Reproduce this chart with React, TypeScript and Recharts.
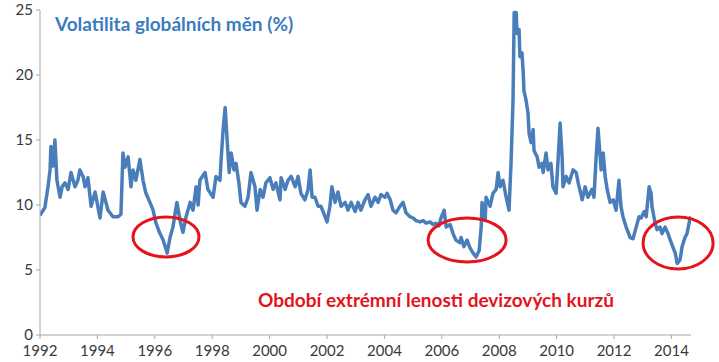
import { LineChart, Line, XAxis, YAxis, ReferenceDot } from 'recharts';

// decimal years of each observation
const years = [
  1992.0, 1992.17, 1992.28, 1992.35, 1992.38, 1992.45, 1992.52, 1992.59, 1992.7, 1992.77,
  1992.87, 1992.98, 1993.08, 1993.22, 1993.32, 1993.39, 1993.5, 1993.57, 1993.67, 1993.78,
  1993.92, 1994.09, 1994.2, 1994.37, 1994.54, 1994.72, 1994.82, 1994.89, 1994.96, 1995.07,
  1995.17, 1995.24, 1995.34, 1995.48, 1995.59, 1995.69, 1995.83, 1995.94, 1996.04, 1996.18,
  1996.29, 1996.43, 1996.53, 1996.63, 1996.77, 1996.88, 1996.98, 1997.09, 1997.23, 1997.33,
  1997.44, 1997.51, 1997.57, 1997.75, 1997.85, 1998.03, 1998.13, 1998.27, 1998.31, 1998.38,
  1998.45, 1998.52, 1998.59, 1998.66, 1998.76, 1998.83, 1998.93, 1999.0, 1999.14, 1999.25,
  1999.35, 1999.49, 1999.56, 1999.67, 1999.77, 1999.87, 2000.01, 2000.12, 2000.22, 2000.36,
  2000.4, 2000.54, 2000.64, 2000.75, 2000.89, 2000.99, 2001.09, 2001.23, 2001.34, 2001.41,
  2001.48, 2001.58, 2001.69, 2001.79, 2001.93, 2002.0, 2002.1, 2002.17, 2002.28, 2002.38,
  2002.49, 2002.63, 2002.73, 2002.84, 2002.98, 2003.08, 2003.18, 2003.32, 2003.43, 2003.53,
  2003.67, 2003.78, 2003.88, 2004.02, 2004.09, 2004.2, 2004.3, 2004.4, 2004.54, 2004.65,
  2004.75, 2004.89, 2005.0, 2005.1, 2005.24, 2005.35, 2005.45, 2005.59, 2005.69, 2005.8,
  2005.9, 2005.97, 2006.08, 2006.15, 2006.29, 2006.39, 2006.49, 2006.63, 2006.67, 2006.77,
  2006.88, 2006.98, 2007.09, 2007.19, 2007.3, 2007.37, 2007.4, 2007.51, 2007.54, 2007.68,
  2007.78, 2007.89, 2007.96, 2008.03, 2008.13, 2008.24, 2008.34, 2008.41, 2008.48, 2008.52,
  2008.59, 2008.62, 2008.69, 2008.72, 2008.79, 2008.83, 2008.86, 2008.93, 2009.0, 2009.04,
  2009.11, 2009.18, 2009.21, 2009.32, 2009.39, 2009.49, 2009.53, 2009.63, 2009.7, 2009.8,
  2009.87, 2009.98, 2010.05, 2010.12, 2010.19, 2010.22, 2010.33, 2010.43, 2010.57, 2010.68,
  2010.75, 2010.89, 2010.99, 2011.09, 2011.23, 2011.3, 2011.37, 2011.44, 2011.55, 2011.62,
  2011.69, 2011.76, 2011.86, 2011.97, 2012.07, 2012.17, 2012.24, 2012.31, 2012.42, 2012.56,
  2012.66, 2012.77, 2012.87, 2012.94, 2013.05, 2013.12, 2013.22, 2013.29, 2013.32, 2013.43,
  2013.5, 2013.6, 2013.67, 2013.78, 2013.88, 2013.99, 2014.13, 2014.2, 2014.3, 2014.37,
  2014.47, 2014.54, 2014.65, 2014.68,
];

// volatilita (%)
const volatility = [
  9.2, 9.8, 11.4, 12.7, 14.5, 13.0, 15.0, 11.9, 10.6, 11.4,
  11.7, 11.2, 12.5, 11.4, 11.9, 12.7, 12.2, 11.4, 12.1, 9.9,
  11.0, 9.0, 11.0, 9.6, 9.1, 9.1, 9.3, 14.0, 12.9, 13.7,
  11.4, 12.7, 11.9, 13.5, 11.9, 10.9, 10.2, 9.6, 8.6, 7.8,
  7.3, 6.3, 7.5, 8.3, 10.2, 8.8, 7.9, 9.1, 10.2, 9.6,
  11.4, 10.0, 11.9, 12.5, 11.2, 10.6, 12.2, 11.9, 13.5, 15.8,
  17.5, 15.0, 12.5, 14.0, 12.7, 13.2, 11.7, 10.2, 9.9, 10.6,
  12.5, 11.4, 9.6, 11.2, 10.6, 11.7, 12.1, 11.2, 11.7, 10.4,
  12.1, 11.2, 11.9, 12.2, 11.4, 12.2, 10.9, 10.4, 11.2, 12.7,
  10.6, 10.6, 9.9, 9.9, 9.1, 8.7, 9.9, 11.4, 10.2, 11.0,
  9.9, 10.2, 9.6, 10.2, 9.5, 10.2, 9.6, 10.4, 10.8, 9.9,
  10.6, 10.2, 10.8, 10.6, 10.9, 10.4, 9.6, 9.4, 9.9, 10.2,
  9.4, 9.1, 9.0, 8.8, 8.7, 8.8, 8.6, 8.7, 8.5, 8.6,
  8.4, 9.0, 9.6, 8.3, 8.5, 7.8, 7.3, 7.1, 7.5, 6.8,
  7.3, 6.7, 6.3, 6.0, 6.5, 8.3, 10.2, 8.8, 10.6, 9.9,
  10.9, 11.2, 12.5, 11.4, 11.9, 10.6, 9.6, 13.2, 18.1, 24.8,
  24.8, 23.2, 23.5, 21.4, 21.7, 20.4, 18.8, 18.1, 17.1, 15.5,
  14.8, 15.8, 14.2, 13.7, 12.9, 13.2, 12.5, 14.0, 12.7, 13.2,
  11.4, 10.9, 13.5, 16.3, 13.7, 11.4, 12.2, 11.7, 12.7, 12.5,
  11.7, 10.4, 11.4, 10.6, 11.2, 10.6, 13.5, 15.9, 12.7, 14.0,
  12.2, 11.2, 10.2, 10.4, 9.6, 11.9, 9.9, 9.1, 8.3, 7.5,
  7.4, 8.3, 9.1, 9.0, 9.5, 9.1, 11.4, 10.9, 9.9, 8.6,
  8.1, 8.3, 7.8, 8.3, 7.8, 7.1, 6.3, 5.5, 5.8, 6.8,
  7.5, 7.8, 9.0, 9.1,
];

const xTicks = [1992, 1994, 1996, 1998, 2000, 2002, 2004, 2006, 2008, 2010, 2012, 2014];
const yTicks = [0, 5, 10, 15, 20, 25];

// zakroužkovaná období (střed v datech, poloměry v px)
const calmPeriods = [
  { year: 1996.39, value: 7.54, rx: 33, ry: 20 },
  { year: 2006.88, value: 7.31, rx: 39, ry: 22 },
  { year: 2014.23, value: 7.08, rx: 35, ry: 26 },
];

const data = years.map((t, i) => ({ t, v: volatility[i] }));

const font = 'Lato, "Open Sans", sans-serif';
const axisColor = '#a6a6a6';
const tickStyle = { fill: '#3a3a3a', fontSize: 15, fontFamily: font };

export default function App() {
  return (
    <div style={{ position: 'relative', width: 719, height: 362, background: '#fff' }}>
      <style>{'body{margin:0}'}</style>
      <LineChart
        width={719}
        height={362}
        data={data}
        margin={{ top: 10, right: 28, bottom: 0, left: 0 }}
      >
        <XAxis
          dataKey="t"
          type="number"
          domain={[1992, 2014.68]}
          ticks={xTicks}
          allowDataOverflow
          height={27}
          tickSize={4}
          tickMargin={6}
          stroke={axisColor}
          tick={tickStyle}
          interval={0}
        />
        <YAxis
          type="number"
          domain={[0, 25]}
          ticks={yTicks}
          width={40}
          tickSize={4}
          tickMargin={3}
          stroke={axisColor}
          tick={tickStyle}
          interval={0}
        />
        <Line
          type="linear"
          dataKey="v"
          stroke="#4a7ebb"
          strokeWidth={3.5}
          strokeLinejoin="round"
          dot={false}
          activeDot={false}
          isAnimationActive={false}
        />
        {calmPeriods.map((p) => (
          <ReferenceDot
            key={p.year}
            x={p.year}
            y={p.value}
            ifOverflow="visible"
            shape={(props: any) => (
              <ellipse
                cx={props.cx}
                cy={props.cy}
                rx={p.rx}
                ry={p.ry}
                fill="none"
                stroke="#e3141b"
                strokeWidth={3}
              />
            )}
          />
        ))}
      </LineChart>
      <div
        style={{
          position: 'absolute',
          left: 55,
          top: 12,
          fontFamily: font,
          fontWeight: 700,
          fontSize: 19,
          color: '#3a7cc0',
          whiteSpace: 'nowrap',
        }}
      >
        Volatilita globálních měn (%)
      </div>
      <div
        style={{
          position: 'absolute',
          left: 258,
          top: 288,
          fontFamily: font,
          fontWeight: 700,
          fontSize: 19,
          color: '#e3141b',
          whiteSpace: 'nowrap',
        }}
      >
        Období extrémní lenosti devizových kurzů
      </div>
    </div>
  );
}
